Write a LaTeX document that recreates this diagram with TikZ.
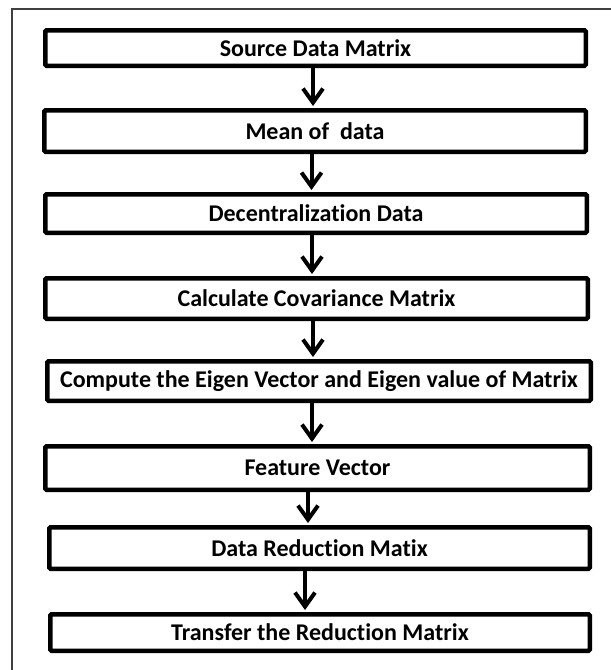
\documentclass[tikz,border=0pt]{standalone}
\usepackage{fontspec}
\setmainfont{Carlito}[RawFeature={-liga;-clig}]
\usetikzlibrary{arrows.meta}

\begin{document}
\begin{tikzpicture}[x=1pt,y=-1pt,
  stepbox/.style={draw=black,line width=4.5pt,rounded corners=1.2pt,fill=white,
    inner sep=0pt,font=\fontsize{24}{28}\selectfont\bfseries},
  flow/.style={draw=black,line width=4pt,
    -{Straight Barb[length=14pt,width=20pt,line width=4pt]},shorten >=2pt},
  frame/.style={draw=black!75,line width=1.6pt}]
\useasboundingbox (0,0) rectangle (611,670);

% surrounding frame (only its left and top sides lie inside the page)
\draw[frame] (12,670) -- (12,9) -- (611,9);

% process steps
\node[stepbox,minimum width=540.5pt,minimum height=35.5pt] (s1) at (315.5,48)
  {Source Data Matrix};
\node[stepbox,minimum width=541.5pt,minimum height=41.5pt] (s2) at (315,131)
  {Mean of~ data};
\node[stepbox,minimum width=541.5pt,minimum height=38.5pt] (s3) at (316,213.5)
  {Decentralization Data};
\node[stepbox,minimum width=542.5pt,minimum height=40.5pt] (s4) at (316.5,298.5)
  {Calculate Covariance Matrix};
\node[stepbox,minimum width=543.5pt,minimum height=39.5pt] (s5) at (319,381)
  {Compute the Eigen Vector and Eigen value of Matrix};
\node[stepbox,minimum width=544.5pt,minimum height=43.5pt] (s6) at (317.5,468)
  {Feature Vector};
\node[stepbox,minimum width=540.5pt,minimum height=41.5pt] (s7) at (319.5,548)
  {Data Reduction Matix};
\node[stepbox,minimum width=539.5pt,minimum height=36.5pt] (s8) at (320,632.5)
  {Transfer the Reduction Matrix};

% connectors (each one vertical)
\draw[flow] ([xshift=-2.5pt]s1.south) -- ([xshift=-2pt]s2.north);
\draw[flow] ([xshift=-3.5pt]s2.south) -- ([xshift=-4.5pt]s3.north);
\draw[flow] ([xshift=-4pt]s3.south) -- ([xshift=-4.5pt]s4.north);
\draw[flow] ([xshift=-3.5pt]s4.south) -- ([xshift=-6pt]s5.north);
\draw[flow] ([xshift=-7pt]s5.south) -- ([xshift=-5.5pt]s6.north);
\draw[flow] ([xshift=-9.5pt]s6.south) -- ([xshift=-11.5pt]s7.north);
\draw[flow] ([xshift=-14.5pt]s7.south) -- ([xshift=-15pt]s8.north);
\end{tikzpicture}
\end{document}
